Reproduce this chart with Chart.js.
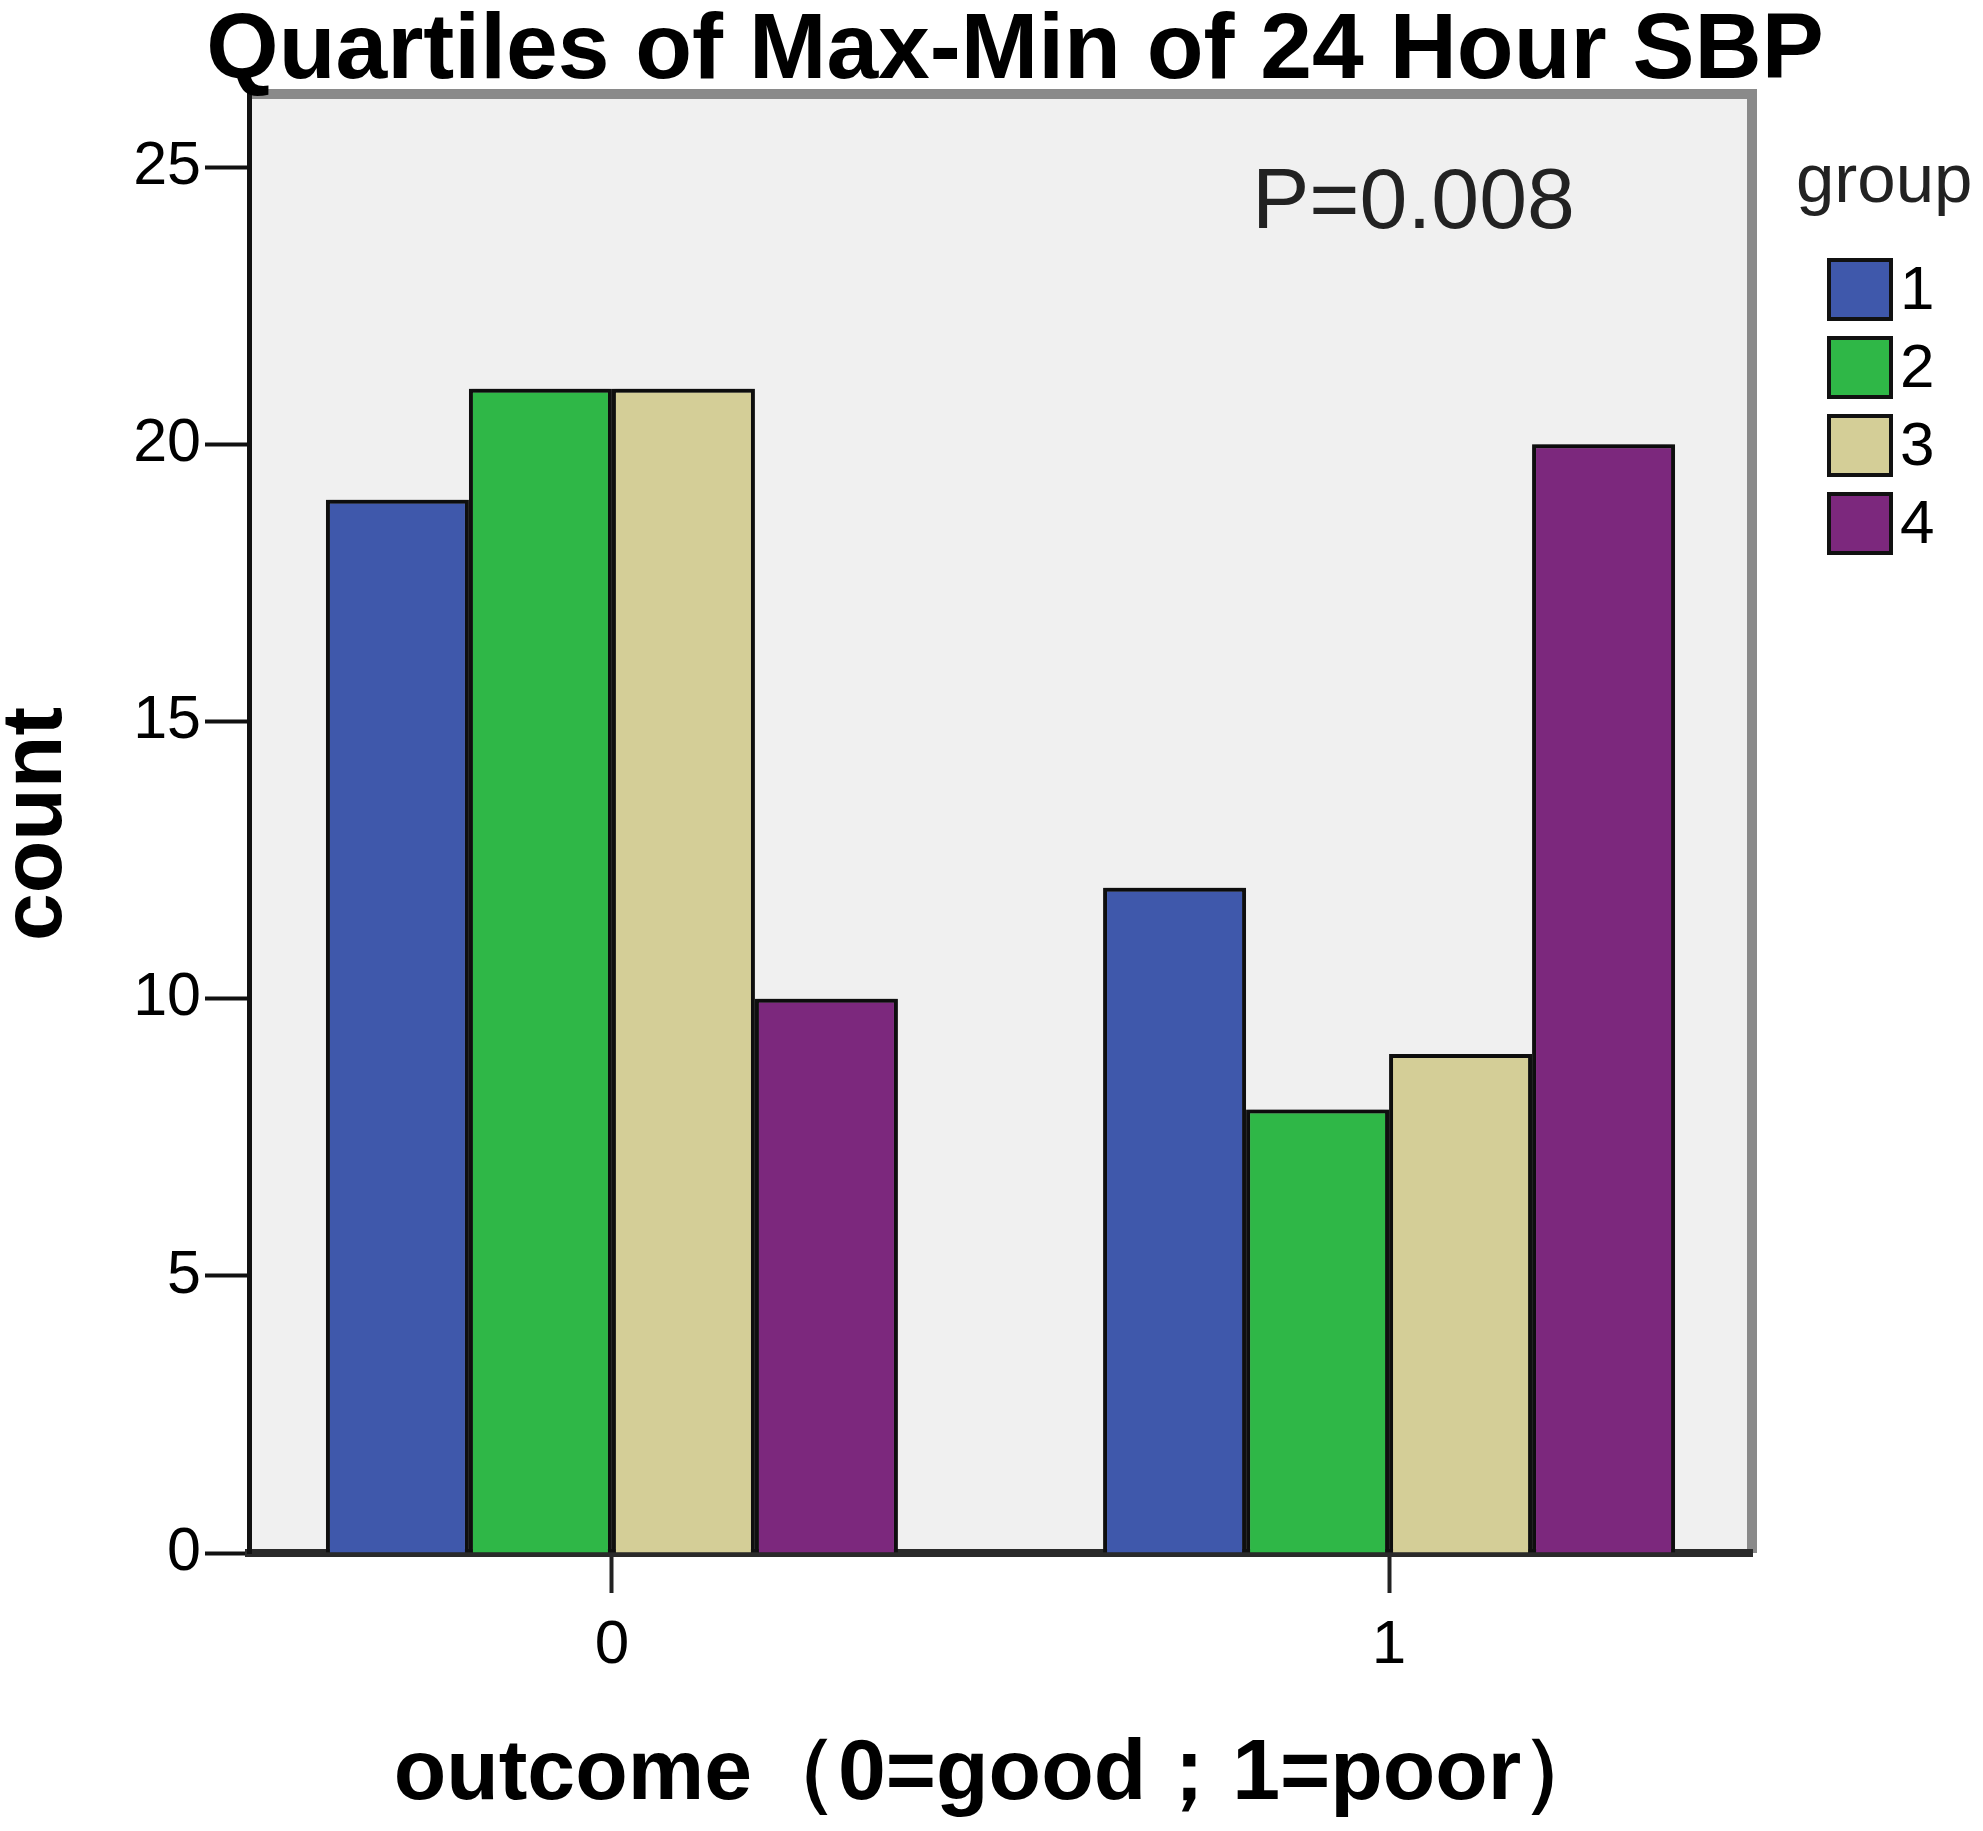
<!DOCTYPE html>
<html>
<head>
<meta charset="utf-8">
<script src="https://cdn.jsdelivr.net/npm/chart.js@4.4.0/dist/chart.umd.min.js"></script>
<style>
  html, body { margin: 0; padding: 0; background: #fff; }
  canvas { display: block; }
</style>
</head>
<body>
<canvas id="myChart" width="1983" height="1831" style="width:1983px;height:1831px"></canvas>
<script>
// outcome categories on the x axis (0 = good, 1 = poor)
const outcomes = [0, 1];
const groupLabels = ['1', '2', '3', '4'];
const group1 = [19, 12];
const group2 = [21, 8];
const group3 = [21, 9];
const group4 = [10, 20];
const yTicks = [0, 5, 10, 15, 20, 25];
const xTicks = [0, 1];

const groupColors = ['#3F58AB', '#2FB747', '#D4CE97', '#7C287D'];
const series = [group1, group2, group3, group4];

const FONT = '"Liberation Sans", Arial, sans-serif';

const datasets = series.map(function (values, i) {
  return {
    label: groupLabels[i],
    data: values.map(function (v, j) { return { x: outcomes[j], y: v }; }),
    backgroundColor: groupColors[i],
    borderColor: '#111',
    borderWidth: 4,
    borderSkipped: 'bottom',
    categoryPercentage: 0.736,
    barPercentage: 1.0,
  };
});

// plot background, grey frame, title, p value and legend
const decorations = {
  id: 'decorations',
  beforeDraw(chart) {
    const { ctx, chartArea: a } = chart;
    ctx.save();
    ctx.fillStyle = '#F0F0F0';
    ctx.fillRect(a.left, a.top, a.right - a.left, a.bottom - a.top);
    ctx.strokeStyle = '#8A8A8A';
    ctx.lineWidth = 10;
    ctx.beginPath();
    ctx.moveTo(a.left, a.top - 1);
    ctx.lineTo(a.right, a.top - 1);
    ctx.lineTo(a.right, a.bottom);
    ctx.stroke();
    ctx.restore();
  },
  beforeDatasetsDraw(chart) {
    // soft grey halo round the bars, like the SPSS export
    const ctx = chart.ctx;
    ctx.save();
    ctx.shadowColor = 'rgba(0,0,0,0.45)';
    ctx.shadowBlur = 6;
    ctx.shadowOffsetX = 0;
    ctx.shadowOffsetY = -2;
  },
  afterDatasetsDraw(chart) {
    chart.ctx.restore();
  },
  afterDraw(chart) {
    const { ctx } = chart;
    ctx.save();
    // title
    ctx.fillStyle = '#000';
    ctx.font = 'bold 93px ' + FONT;
    ctx.textAlign = 'center';
    ctx.textBaseline = 'alphabetic';
    ctx.fillText('Quartiles of Max-Min of 24 Hour SBP', 1015, 78);

    // p value
    ctx.fillStyle = '#222';
    ctx.font = '86px ' + FONT;
    ctx.textAlign = 'left';
    ctx.fillText('P=0.008', 1252, 228);

    // legend
    ctx.fillStyle = '#222';
    ctx.font = '69px ' + FONT;
    ctx.fillText('group', 1796, 202);
    ctx.font = '62px ' + FONT;
    ctx.textBaseline = 'middle';
    chart.data.datasets.forEach(function (ds, i) {
      const y = 260 + i * 78;
      ctx.fillStyle = ds.backgroundColor;
      ctx.fillRect(1829, y, 62, 59);
      ctx.strokeStyle = '#111';
      ctx.lineWidth = 4;
      ctx.strokeRect(1829, y, 62, 59);
      ctx.fillStyle = '#000';
      ctx.fillText(ds.label, 1900, y + 32);
    });
    ctx.restore();
  }
};

const config = {
  type: 'bar',
  data: { datasets: datasets },
  plugins: [decorations],
  options: {
    responsive: false,
    devicePixelRatio: 1,
    animation: false,
    layout: { padding: { top: 95, right: 231, left: 0, bottom: 0 } },
    plugins: {
      legend: { display: false },
      title: { display: false },
      tooltip: { enabled: false },
    },
    scales: {
      x: {
        type: 'linear',
        min: -0.467,
        max: 1.467,
        offset: false,
        afterFit: function (scale) { scale.height = 278; },
        afterBuildTicks: function (scale) {
          scale.ticks = xTicks.map(function (v) { return { value: v }; });
        },
        ticks: {
          stepSize: 1,
          color: '#000',
          padding: 16,
          font: { family: FONT, size: 62 },
        },
        grid: {
          drawOnChartArea: false,
          offset: false,
          tickLength: 40,
          tickWidth: 4,
          tickColor: '#222',
        },
        border: { display: true, color: '#2a2a2a', width: 8 },
        title: {
          display: true,
          text: 'outcome（0=good；1=poor）',
          color: '#000',
          font: { family: FONT, size: 86, weight: 'bold' },
          padding: { top: 0, bottom: 4 },
        },
      },
      y: {
        type: 'linear',
        min: 0,
        max: 26.3,
        afterFit: function (scale) { scale.width = 249; },
        afterBuildTicks: function (scale) {
          scale.ticks = yTicks.map(function (v) { return { value: v }; });
        },
        ticks: {
          stepSize: 5,
          color: '#000',
          padding: 4,
          font: { family: FONT, size: 61 },
        },
        grid: {
          drawOnChartArea: false,
          tickLength: 44,
          tickWidth: 4,
          tickColor: '#111',
        },
        border: { display: true, color: '#111', width: 5 },
        title: {
          display: true,
          text: 'count',
          color: '#000',
          font: { family: FONT, size: 86, weight: 'bold' },
          padding: { top: -14, bottom: 0 },
        },
      },
    },
  },
};

const myChart = new Chart(document.getElementById('myChart'), config);
</script>
</body>
</html>
